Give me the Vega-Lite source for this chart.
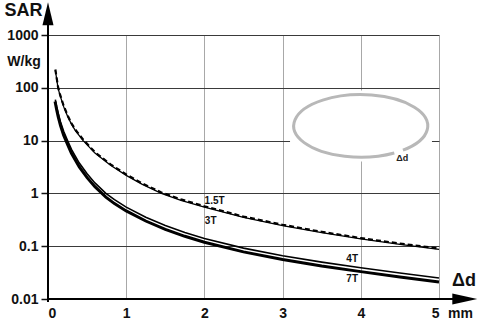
{
  "$schema": "https://vega.github.io/schema/vega-lite/v6.json",
  "width": 391,
  "height": 264,
  "autosize": {"type": "none"},
  "padding": {"left": 48, "top": 35, "right": 39, "bottom": 25},
  "background": "white",
  "config": {"view": {"stroke": null}, "font": "Liberation Sans"},
  "datasets": {
    "inset": [{"x": 3.095, "x2": 4.91, "y": 4.0, "y2": 89}],
    "ring": [{"x": 4.0, "y": 19}],
    "insetLabel": [{"x": 4.53, "y": 4.6, "text": "Δd"}],
    "curves": [
      {"series": "3T", "x": 0.094, "y": 214}, {"series": "3T", "x": 0.11, "y": 150}, {"series": "3T", "x": 0.128, "y": 100},
      {"series": "3T", "x": 0.15, "y": 75}, {"series": "3T", "x": 0.2, "y": 44}, {"series": "3T", "x": 0.25, "y": 29},
      {"series": "3T", "x": 0.3, "y": 20.5}, {"series": "3T", "x": 0.35, "y": 15.5}, {"series": "3T", "x": 0.45, "y": 10},
      {"series": "3T", "x": 0.6, "y": 5.8}, {"series": "3T", "x": 0.8, "y": 3.4}, {"series": "3T", "x": 1.0, "y": 2.2},
      {"series": "3T", "x": 1.2, "y": 1.5}, {"series": "3T", "x": 1.45, "y": 1.0}, {"series": "3T", "x": 1.7, "y": 0.74},
      {"series": "3T", "x": 2.0, "y": 0.55}, {"series": "3T", "x": 2.5, "y": 0.35}, {"series": "3T", "x": 3.0, "y": 0.245},
      {"series": "3T", "x": 3.5, "y": 0.18}, {"series": "3T", "x": 4.0, "y": 0.137}, {"series": "3T", "x": 4.5, "y": 0.108},
      {"series": "3T", "x": 5.0, "y": 0.087},
      {"series": "1.5T", "x": 0.094, "y": 222}, {"series": "1.5T", "x": 0.11, "y": 156}, {"series": "1.5T", "x": 0.128, "y": 104},
      {"series": "1.5T", "x": 0.15, "y": 78}, {"series": "1.5T", "x": 0.2, "y": 45.8}, {"series": "1.5T", "x": 0.25, "y": 30.2},
      {"series": "1.5T", "x": 0.3, "y": 21.3}, {"series": "1.5T", "x": 0.35, "y": 16.1}, {"series": "1.5T", "x": 0.45, "y": 10.4},
      {"series": "1.5T", "x": 0.6, "y": 6.03}, {"series": "1.5T", "x": 0.8, "y": 3.54}, {"series": "1.5T", "x": 1.0, "y": 2.29},
      {"series": "1.5T", "x": 1.2, "y": 1.56}, {"series": "1.5T", "x": 1.45, "y": 1.04}, {"series": "1.5T", "x": 1.7, "y": 0.77},
      {"series": "1.5T", "x": 2.0, "y": 0.572}, {"series": "1.5T", "x": 2.5, "y": 0.364}, {"series": "1.5T", "x": 3.0, "y": 0.255},
      {"series": "1.5T", "x": 3.5, "y": 0.187}, {"series": "1.5T", "x": 4.0, "y": 0.1425}, {"series": "1.5T", "x": 4.5, "y": 0.112},
      {"series": "1.5T", "x": 5.0, "y": 0.0905},
      {"series": "4T", "x": 0.094, "y": 60}, {"series": "4T", "x": 0.11, "y": 44}, {"series": "4T", "x": 0.13, "y": 33},
      {"series": "4T", "x": 0.16, "y": 22.5}, {"series": "4T", "x": 0.2, "y": 15}, {"series": "4T", "x": 0.25, "y": 10},
      {"series": "4T", "x": 0.3, "y": 6.8}, {"series": "4T", "x": 0.4, "y": 3.75}, {"series": "4T", "x": 0.5, "y": 2.35},
      {"series": "4T", "x": 0.6, "y": 1.58}, {"series": "4T", "x": 0.74, "y": 1.0}, {"series": "4T", "x": 0.85, "y": 0.76},
      {"series": "4T", "x": 1.0, "y": 0.55}, {"series": "4T", "x": 1.25, "y": 0.354}, {"series": "4T", "x": 1.5, "y": 0.247},
      {"series": "4T", "x": 1.75, "y": 0.182}, {"series": "4T", "x": 2.0, "y": 0.14}, {"series": "4T", "x": 2.5, "y": 0.092},
      {"series": "4T", "x": 3.0, "y": 0.066}, {"series": "4T", "x": 3.5, "y": 0.05}, {"series": "4T", "x": 4.0, "y": 0.039},
      {"series": "4T", "x": 4.5, "y": 0.031}, {"series": "4T", "x": 5.0, "y": 0.025},
      {"series": "7T", "x": 0.09, "y": 55}, {"series": "7T", "x": 0.11, "y": 39}, {"series": "7T", "x": 0.13, "y": 28.5},
      {"series": "7T", "x": 0.16, "y": 19.3}, {"series": "7T", "x": 0.2, "y": 12.7}, {"series": "7T", "x": 0.25, "y": 8.5},
      {"series": "7T", "x": 0.3, "y": 5.76}, {"series": "7T", "x": 0.4, "y": 3.18}, {"series": "7T", "x": 0.5, "y": 1.99},
      {"series": "7T", "x": 0.6, "y": 1.34}, {"series": "7T", "x": 0.74, "y": 0.85}, {"series": "7T", "x": 0.85, "y": 0.64},
      {"series": "7T", "x": 1.0, "y": 0.466}, {"series": "7T", "x": 1.25, "y": 0.30}, {"series": "7T", "x": 1.5, "y": 0.209},
      {"series": "7T", "x": 1.75, "y": 0.154}, {"series": "7T", "x": 2.0, "y": 0.119}, {"series": "7T", "x": 2.5, "y": 0.078},
      {"series": "7T", "x": 3.0, "y": 0.056}, {"series": "7T", "x": 3.5, "y": 0.042}, {"series": "7T", "x": 4.0, "y": 0.033},
      {"series": "7T", "x": 4.5, "y": 0.026}, {"series": "7T", "x": 5.0, "y": 0.021}
    ],
    "curveLabels": [
      {"x": 2.13, "y": 0.705, "text": "1.5T"},
      {"x": 2.08, "y": 0.295, "text": "3T"},
      {"x": 3.89, "y": 0.057, "text": "4T"},
      {"x": 3.89, "y": 0.0235, "text": "7T"}
    ],
    "axisLines": [
      {"x": 0, "x2": 5.2, "y": 0.01, "y2": 0.01},
      {"x": 0, "x2": 0, "y": 0.0088, "y2": 1600}
    ],
    "arrowUp": [{"x": 0, "y": 2520}],
    "arrowRight": [{"x": 5.33, "y": 0.01}],
    "bigTitles": [
      {"x": -0.313, "y": 2860, "text": "SAR"},
      {"x": 5.32, "y": 0.0215, "text": "Δd"}
    ],
    "unitTitles": [
      {"x": -0.307, "y": 310, "text": "W/kg"},
      {"x": 5.275, "y": 0.0053, "text": "mm"}
    ]
  },
  "encoding": {
    "x": {
      "field": "x", "type": "quantitative",
      "scale": {"domain": [0, 5], "nice": false, "zero": false},
      "axis": {
        "values": [0, 1, 2, 3, 4, 5], "format": "d", "title": null,
        "grid": true, "gridColor": "#a8a8a8", "gridWidth": 1,
        "domain": false, "ticks": false,
        "labelFont": "Liberation Sans", "labelFontWeight": "bold", "labelFontSize": 14,
        "labelColor": "#111", "labelPadding": 7
      }
    },
    "y": {
      "field": "y", "type": "quantitative",
      "scale": {"type": "log", "domain": [0.01, 1000], "nice": false},
      "axis": {
        "values": [0.01, 0.1, 1, 10, 100, 1000], "title": null,
        "labelExpr": "format(datum.value, '~g')",
        "grid": true, "gridColor": "#3a3a3a", "gridWidth": 1.2,
        "domain": false, "ticks": true, "tickSize": 7, "tickColor": "#111", "tickWidth": 1.5,
        "labelFont": "Liberation Sans", "labelFontWeight": "bold", "labelFontSize": 14,
        "labelColor": "#111", "labelPadding": 3
      }
    }
  },
  "layer": [
    {
      "data": {"name": "inset"},
      "mark": {"type": "rect", "fill": "white", "stroke": null},
      "encoding": {"x2": {"field": "x2"}, "y2": {"field": "y2"}}
    },
    {
      "data": {"name": "ring"},
      "mark": {
        "type": "point", "filled": false, "opacity": 1,
        "shape": "M0.5,0.4045A1,0.467,0,1,1,0.6293,0.3629",
        "size": 17956, "stroke": "#b8b8b8", "strokeWidth": 3
      }
    },
    {
      "data": {"name": "insetLabel"},
      "mark": {"type": "text", "fontSize": 9, "fontWeight": "bold", "color": "#222", "align": "center", "baseline": "middle"},
      "encoding": {"text": {"field": "text"}}
    },
    {
      "data": {"name": "curves"},
      "transform": [{"filter": "datum.series == '3T'"}],
      "mark": {"type": "line", "color": "black", "strokeWidth": 1.3},
      "encoding": {}
    },
    {
      "data": {"name": "curves"},
      "transform": [{"filter": "datum.series == '1.5T'"}],
      "mark": {"type": "line", "color": "black", "strokeWidth": 2.2, "strokeDash": [5, 3]},
      "encoding": {}
    },
    {
      "data": {"name": "curves"},
      "transform": [{"filter": "datum.series == '4T'"}],
      "mark": {"type": "line", "color": "black", "strokeWidth": 1.6},
      "encoding": {}
    },
    {
      "data": {"name": "curves"},
      "transform": [{"filter": "datum.series == '7T'"}],
      "mark": {"type": "line", "color": "black", "strokeWidth": 3},
      "encoding": {}
    },
    {
      "data": {"name": "curveLabels"},
      "mark": {"type": "text", "fontSize": 10, "fontWeight": "bold", "color": "#111", "align": "center", "baseline": "middle"},
      "encoding": {"text": {"field": "text"}}
    },
    {
      "data": {"name": "axisLines"},
      "mark": {"type": "rule", "color": "black", "strokeWidth": 2},
      "encoding": {"x2": {"field": "x2"}, "y2": {"field": "y2"}}
    },
    {
      "data": {"name": "arrowUp"},
      "mark": {"type": "point", "filled": true, "opacity": 1, "color": "black", "shape": "M0,-1L0.48,1L-0.48,1Z", "size": 529}
    },
    {
      "data": {"name": "arrowRight"},
      "mark": {"type": "point", "filled": true, "opacity": 1, "color": "black", "shape": "M1,0L-1,-0.44L-1,0.44Z", "size": 625}
    },
    {
      "data": {"name": "bigTitles"},
      "mark": {"type": "text", "fontSize": 18, "fontWeight": "bold", "color": "#111", "align": "center", "baseline": "middle"},
      "encoding": {"text": {"field": "text"}}
    },
    {
      "data": {"name": "unitTitles"},
      "mark": {"type": "text", "fontSize": 14, "fontWeight": "bold", "color": "#111", "align": "center", "baseline": "middle"},
      "encoding": {"text": {"field": "text"}}
    }
  ]
}
